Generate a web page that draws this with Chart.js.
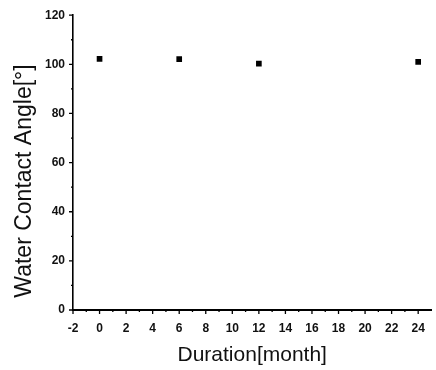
<!DOCTYPE html>
<html lang="en">
<head>
    <meta charset="UTF-8">
    <title>Water Contact Angle vs Duration</title>
    <script src="https://cdn.jsdelivr.net/npm/chart.js"></script>
    <style>
        body { margin: 0; background: #fff; }
        #wrap { width: 436px; height: 370px; }
    </style>
</head>
<body>
    <div id="wrap"><canvas id="angleChart" width="436" height="370"></canvas></div>

    <script>
        // values
        const durations = [0, 6, 12, 24];
        const angles = [102.2, 102.1, 100.3, 101.0];
        const xTickValues = [-2, 0, 2, 4, 6, 8, 10, 12, 14, 16, 18, 20, 22, 24];
        const yTickValues = [0, 20, 40, 60, 80, 100, 120];

        const tickFont = { family: 'Liberation Sans, Arial, sans-serif', size: 12, weight: 'bold' };

        // outward major + minor tick marks, and the y title placed like the original
        const axisExtras = {
            id: 'axisExtras',
            afterDraw: (chart) => {
                const ctx = chart.ctx;
                const xs = chart.scales.x;
                const ys = chart.scales.y;
                const area = chart.chartArea;
                ctx.save();
                ctx.strokeStyle = '#000';
                ctx.lineWidth = 1.3;
                ctx.beginPath();
                xTickValues.forEach((v, i) => {
                    let px = xs.getPixelForValue(v);
                    ctx.moveTo(px, area.bottom);
                    ctx.lineTo(px, area.bottom + 4);
                    if (i < xTickValues.length - 1) {
                        px = xs.getPixelForValue((v + xTickValues[i + 1]) / 2);
                        ctx.moveTo(px, area.bottom);
                        ctx.lineTo(px, area.bottom + 2);
                    }
                });
                yTickValues.forEach((v, i) => {
                    let py = ys.getPixelForValue(v);
                    ctx.moveTo(area.left, py);
                    ctx.lineTo(area.left - 4, py);
                    if (i < yTickValues.length - 1) {
                        py = ys.getPixelForValue((v + yTickValues[i + 1]) / 2);
                        ctx.moveTo(area.left, py);
                        ctx.lineTo(area.left - 2, py);
                    }
                });
                ctx.stroke();

                ctx.translate(25, 181);
                ctx.rotate(-Math.PI / 2);
                ctx.fillStyle = '#111';
                ctx.font = '23px "Liberation Sans", Arial, sans-serif';
                ctx.textAlign = 'center';
                ctx.textBaseline = 'middle';
                ctx.fillText('Water Contact Angle[°]', 0, 0);
                ctx.restore();
            }
        };

        const ctx = document.getElementById('angleChart').getContext('2d');
        new Chart(ctx, {
            type: 'scatter',
            data: {
                datasets: [{
                    data: durations.map((d, i) => ({ x: d, y: angles[i] })),
                    pointStyle: 'rect',
                    pointRadius: 4,
                    pointHoverRadius: 4,
                    backgroundColor: '#000',
                    borderColor: '#000',
                    borderWidth: 0
                }]
            },
            options: {
                responsive: false,
                animation: false,
                layout: { padding: { top: 15, right: 3, left: 0, bottom: 0 } },
                plugins: {
                    legend: { display: false },
                    tooltip: { enabled: false }
                },
                scales: {
                    x: {
                        type: 'linear',
                        min: -2,
                        max: 25,
                        afterBuildTicks: (scale) => {
                            scale.ticks = xTickValues.map(v => ({ value: v }));
                        },
                        afterFit: (scale) => { scale.height = 60; },
                        grid: { display: false, drawTicks: false },
                        border: { display: true, color: '#000', width: 2 },
                        ticks: {
                            color: '#111',
                            font: tickFont,
                            padding: 11,
                            maxRotation: 0,
                            autoSkip: false
                        },
                        title: {
                            display: true,
                            text: 'Duration[month]',
                            color: '#111',
                            font: { family: 'Liberation Sans, Arial, sans-serif', size: 21 },
                            padding: { top: 0, bottom: 2 }
                        }
                    },
                    y: {
                        min: 0,
                        max: 120,
                        afterBuildTicks: (scale) => {
                            scale.ticks = yTickValues.map(v => ({ value: v }));
                        },
                        afterFit: (scale) => { scale.width = 73; },
                        grid: { display: false, drawTicks: false },
                        border: { display: true, color: '#000', width: 1.6 },
                        ticks: {
                            color: '#111',
                            font: tickFont,
                            padding: 8
                        }
                    }
                }
            },
            plugins: [axisExtras]
        });
    </script>
</body>
</html>
